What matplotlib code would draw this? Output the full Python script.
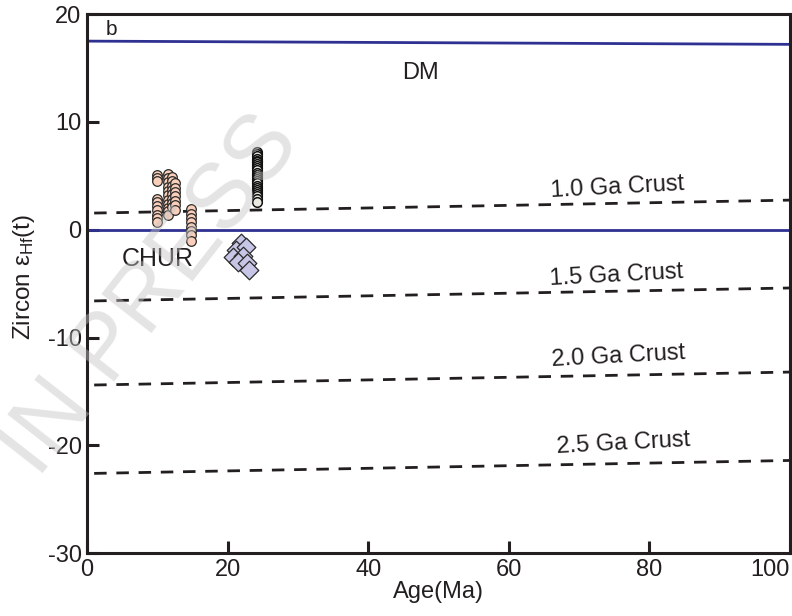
import matplotlib
matplotlib.use("Agg")
import matplotlib.pyplot as plt
import numpy as np

plt.rcParams["axes.unicode_minus"] = False

# Reference evolution lines (age in Ma, epsilon Hf)
DM_AGE = [0, 100]
DM_EHF = [17.5, 17.2]
CHUR_AGE = [0, 100]
CHUR_EHF = [0, 0]
CRUST_AGE = [1, 100]
CRUST_LINES = {
    "1.0 Ga Crust": [1.55, 2.75],
    "1.5 Ga Crust": [-6.6, -5.4],
    "2.0 Ga Crust": [-14.4, -13.2],
    "2.5 Ga Crust": [-22.6, -21.4],
}
CRUST_LABEL_POS = {
    "1.0 Ga Crust": (75.5, 3.9),
    "1.5 Ga Crust": (75.3, -4.2),
    "2.0 Ga Crust": (75.6, -11.8),
    "2.5 Ga Crust": (76.3, -19.8),
}

# zircon analyses
PINK_AGE = [10.0] * 10 + [11.5] * 11 + [12.1] * 8 + [12.5] * 7 + [14.8] * 8
PINK_EHF = [5.1, 4.8, 4.5, 2.9, 2.6, 2.2, 1.8, 1.4, 1.1, 0.7,
            5.2, 4.8, 4.4, 4.0, 3.6, 3.2, 2.8, 2.4, 2.0, 1.7, 1.35,
            4.9, 4.5, 4.1, 3.7, 3.3, 2.9, 2.5, 2.1,
            4.3, 3.9, 3.5, 3.1, 2.7, 2.3, 1.8,
            1.9, 1.5, 1.1, 0.7, 0.3, -0.1, -0.5, -1.0]
DARK_AGE = [24.2] * 24
DARK_EHF = [7.2, 7.0, 6.8, 6.6, 6.4, 6.25, 6.1, 5.9, 5.7, 5.5, 5.3, 5.1,
            4.9, 4.7, 4.5, 4.3, 4.1, 3.9, 3.7, 3.5, 3.3, 3.1, 2.9, 2.6]
DIAMOND_AGE = [21.9, 21.2, 22.6, 20.8, 22.2, 21.5, 22.8, 23.0]
DIAMOND_EHF = [-1.25, -1.9, -1.6, -2.5, -2.4, -3.0, -3.1, -3.75]

NARROW = ["Liberation Sans Narrow", "Liberation Sans", "DejaVu Sans"]
REG = ["Liberation Sans", "DejaVu Sans"]
INK = "#231f20"

fig = plt.figure(figsize=(7.92, 6.16), dpi=100)
ax = fig.add_axes([0.110, 0.102, 0.8875, 0.875])

ax.plot(DM_AGE, DM_EHF, color="#2e3192", lw=2.0, zorder=2)
ax.plot(CHUR_AGE, CHUR_EHF, color="#2e3192", lw=2.0, zorder=2)
for name, ys in CRUST_LINES.items():
    ax.plot(CRUST_AGE, ys, color=INK, lw=2.0, ls=(0, (4.5, 3.5)), zorder=2)
    lx, ly = CRUST_LABEL_POS[name]
    ax.text(lx, ly, name, fontsize=17, family=REG, color=INK,
            ha="center", va="center", rotation=3)

ax.scatter(PINK_AGE, PINK_EHF, s=48, marker="o", facecolor="#f9cfbb",
           edgecolor="#2a2a2a", linewidths=0.9, zorder=4)
ax.scatter(DARK_AGE, DARK_EHF, s=48, marker="o", facecolor="#e9e9e2",
           edgecolor="#111111", linewidths=1.1, zorder=4)
ax.scatter(DIAMOND_AGE, DIAMOND_EHF, s=90, marker="D", facecolor="#c7c6e6",
           edgecolor="#2a2a2a", linewidths=0.9, zorder=4)

ax.text(47.4, 14.5, "DM", fontsize=17, family=REG, color=INK, ha="center", va="center")
ax.text(10.0, -2.7, "CHUR", fontsize=18, family=REG, color=INK, ha="center", va="center")
ax.text(3.4, 18.6, "b", fontsize=15, family=REG, color=INK, ha="center", va="center")

ax.set_xlim(0, 100)
ax.set_ylim(-30, 20)
ax.set_xticks(np.arange(0, 101, 20))
ax.set_yticks(np.arange(-30, 21, 10))
ax.tick_params(direction="in", length=8.5, width=2.2, color=INK, labelsize=17,
               labelcolor=INK, pad=4)
for lab in ax.get_xticklabels() + ax.get_yticklabels():
    lab.set_family(NARROW)
ax.get_xticklabels()[-1].set_horizontalalignment("right")
for sp in ax.spines.values():
    sp.set_linewidth(2.2)
    sp.set_color(INK)

ax.set_xlabel("Age(Ma)", fontsize=17, family=NARROW, color=INK, labelpad=0)
ax.set_ylabel(r"Zircon $\mathregular{\varepsilon_{Hf}}$(t)", fontsize=17.5,
              family=REG, color=INK)
ax.yaxis.set_label_coords(-0.072, 0.512)

# faint "in press" stamp across the lower left
fig.text(0.19, 0.52, "IN PRESS", fontsize=66, family=REG, color="#c4c4c4",
         alpha=0.45, rotation=52, ha="center", va="center", zorder=10)

fig.savefig("out.png", dpi=100)
